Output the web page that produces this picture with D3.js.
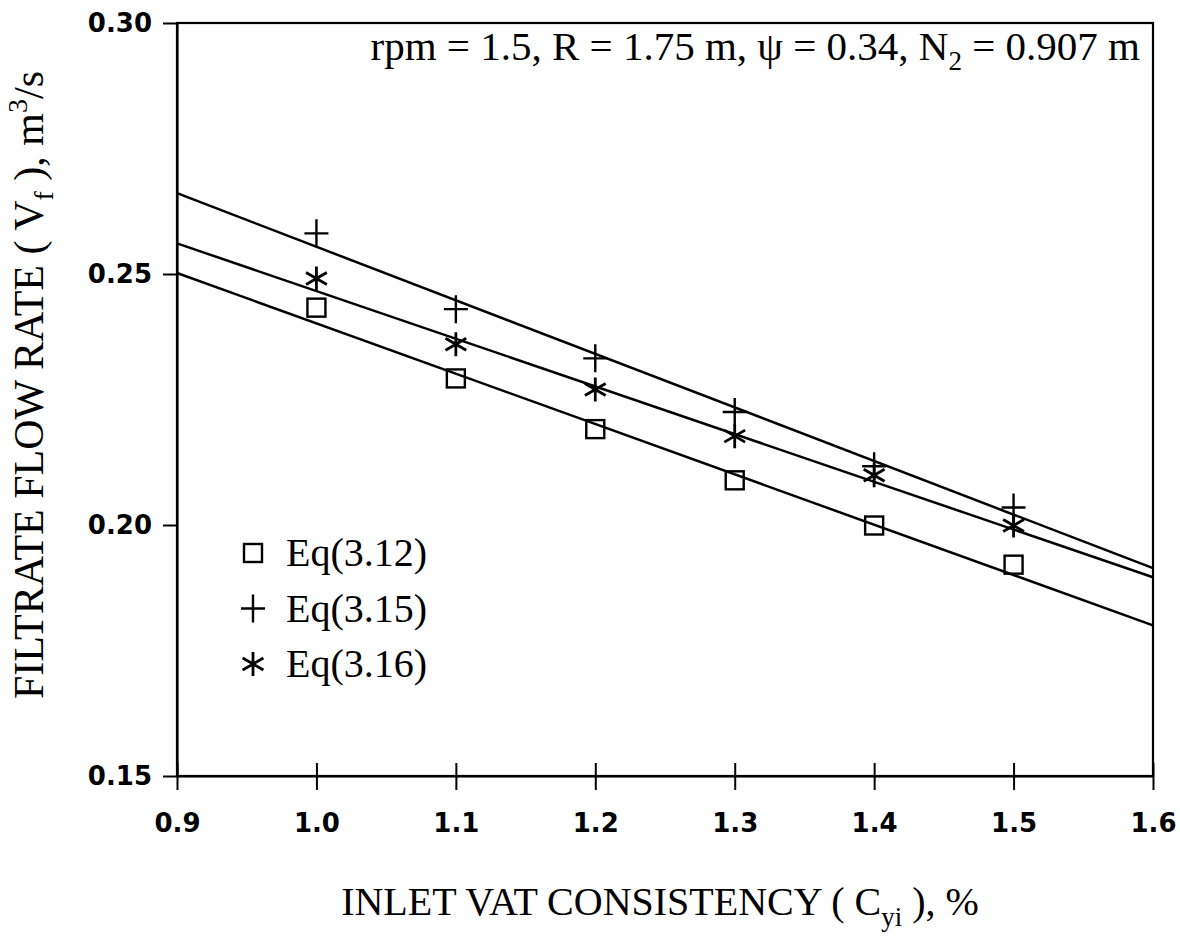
<!DOCTYPE html>
<html>
<head>
<meta charset="utf-8">
<script src="https://cdn.jsdelivr.net/npm/d3@7"></script>
<style>
  body { margin: 0; background: #fff; }
  svg { display: block; }
</style>
</head>
<body>
<svg id="chart"></svg>
<script>
// data
const consistency = [1.0, 1.1, 1.2, 1.3, 1.4, 1.5];
const eq312 = [0.2433, 0.2292, 0.2191, 0.2089, 0.1999, 0.1921];
const eq315 = [0.2581, 0.2430, 0.2332, 0.2225, 0.2117, 0.2035];
const eq316 = [0.2491, 0.2360, 0.2270, 0.2177, 0.2099, 0.1999];

// fitted lines, end points at x = 0.9 and 1.6
const fitX = [0.9, 1.6];
const fit312 = [0.2502, 0.1800];
const fit315 = [0.2661, 0.1914];
const fit316 = [0.2561, 0.1896];

const xTicks = [0.9, 1.0, 1.1, 1.2, 1.3, 1.4, 1.5, 1.6];
const yTicks = [0.15, 0.20, 0.25, 0.30];
const legendLabels = ["Eq(3.12)", "Eq(3.15)", "Eq(3.16)"];

const width = 1180, height = 936;
const margin = { top: 23, right: 27, bottom: 160, left: 177 };

const svg = d3.select("#chart").attr("width", width).attr("height", height);

const x = d3.scaleLinear().domain([0.9, 1.6]).range([margin.left, width - margin.right]);
const y = d3.scaleLinear().domain([0.15, 0.30]).range([height - margin.bottom, margin.top]);

const serif = "'Liberation Serif', 'Times New Roman', serif";
const bold = "'DejaVu Sans', Arial, sans-serif";

// frame
svg.append("rect")
  .attr("x", x(0.9)).attr("y", y(0.30))
  .attr("width", x(1.6) - x(0.9)).attr("height", y(0.15) - y(0.30))
  .attr("fill", "none").attr("stroke", "#000").attr("stroke-width", 2.2);

// x axis, ticks cross the line
const xAxis = d3.axisBottom(x).tickValues(xTicks).tickFormat(d3.format(".1f"))
  .tickSizeInner(14).tickSizeOuter(0).tickPadding(24);
const gx = svg.append("g").attr("transform", `translate(0,${y(0.15)})`).call(xAxis);
gx.select(".domain").attr("stroke-width", 2.2);
gx.selectAll(".tick line").attr("y1", -13).attr("stroke-width", 2);
gx.selectAll(".tick text").attr("font-family", bold).attr("font-weight", "bold")
  .attr("font-size", 26).attr("fill", "#000");

// y axis
const yAxis = d3.axisLeft(y).tickValues(yTicks).tickFormat(d3.format(".2f"))
  .tickSizeInner(14).tickSizeOuter(0).tickPadding(11);
const gy = svg.append("g").attr("transform", `translate(${x(0.9)},0)`).call(yAxis);
gy.select(".domain").attr("stroke-width", 2.2);
gy.selectAll(".tick line").attr("stroke-width", 2);
gy.selectAll(".tick text").attr("font-family", bold).attr("font-weight", "bold")
  .attr("font-size", 26).attr("fill", "#000");

// fitted lines
const line = d3.line().x(d => x(d[0])).y(d => y(d[1]));
[fit312, fit315, fit316].forEach(f => {
  svg.append("path")
    .datum(fitX.map((v, i) => [v, f[i]]))
    .attr("d", line)
    .attr("fill", "none").attr("stroke", "#000").attr("stroke-width", 2.5);
});

// markers
function drawSquare(g, cx, cy) {
  g.append("rect").attr("x", cx - 9).attr("y", cy - 9)
    .attr("width", 18).attr("height", 18)
    .attr("fill", "none").attr("stroke", "#000").attr("stroke-width", 2.4);
}
function drawPlus(g, cx, cy) {
  g.append("path")
    .attr("d", `M${cx - 12},${cy}H${cx + 12}M${cx},${cy - 14}V${cy + 14}`)
    .attr("fill", "none").attr("stroke", "#000").attr("stroke-width", 2.4);
}
function drawStar(g, cx, cy) {
  const r = 12;
  let d = `M${cx},${cy - r}V${cy + r}`;
  [30, 150].forEach(a => {
    const dx = r * Math.cos(a * Math.PI / 180), dy = r * Math.sin(a * Math.PI / 180);
    d += `M${cx - dx},${cy - dy}L${cx + dx},${cy + dy}`;
  });
  g.append("path").attr("d", d)
    .attr("fill", "none").attr("stroke", "#000").attr("stroke-width", 2.8);
}

const marks = svg.append("g");
consistency.forEach((c, i) => {
  drawSquare(marks, x(c), y(eq312[i]));
  drawPlus(marks, x(c), y(eq315[i]));
  drawStar(marks, x(c), y(eq316[i]));
});

// legend
const legend = svg.append("g");
const drawers = [drawSquare, drawPlus, drawStar];
legendLabels.forEach((lab, i) => {
  const ly = 553 + i * 55.5;
  drawers[i](legend, 253, ly);
  legend.append("text").attr("x", 286).attr("y", ly + 13)
    .attr("font-family", serif).attr("font-size", 40).text(lab);
});

// parameter note
const note = svg.append("text")
  .attr("x", 1140).attr("y", 60).attr("text-anchor", "end")
  .attr("font-family", serif).attr("font-size", 41);
note.append("tspan").text("rpm = 1.5, R = 1.75 m, \u03C8 = 0.34, N");
note.append("tspan").attr("font-size", 27).attr("dy", 10).text("2");
note.append("tspan").attr("dy", -10).text(" = 0.907 m");

// x axis title
const xt = svg.append("text")
  .attr("x", 660).attr("y", 915).attr("text-anchor", "middle")
  .attr("font-family", serif).attr("font-size", 40);
xt.append("tspan").text("INLET VAT CONSISTENCY ( C");
xt.append("tspan").attr("font-size", 27).attr("dy", 11).text("yi");
xt.append("tspan").attr("dy", -11).text(" ), %");

// y axis title
const yt = svg.append("text")
  .attr("transform", "translate(43,385) rotate(-90)").attr("text-anchor", "middle")
  .attr("font-family", serif).attr("font-size", 42);
yt.append("tspan").text("FILTRATE FLOW RATE ( V");
yt.append("tspan").attr("font-size", 28).attr("dy", 10).text("f");
yt.append("tspan").attr("dy", -10).text(" ), m");
yt.append("tspan").attr("font-size", 28).attr("dy", -16).text("3");
yt.append("tspan").attr("dy", 16).text("/s");
</script>
</body>
</html>
